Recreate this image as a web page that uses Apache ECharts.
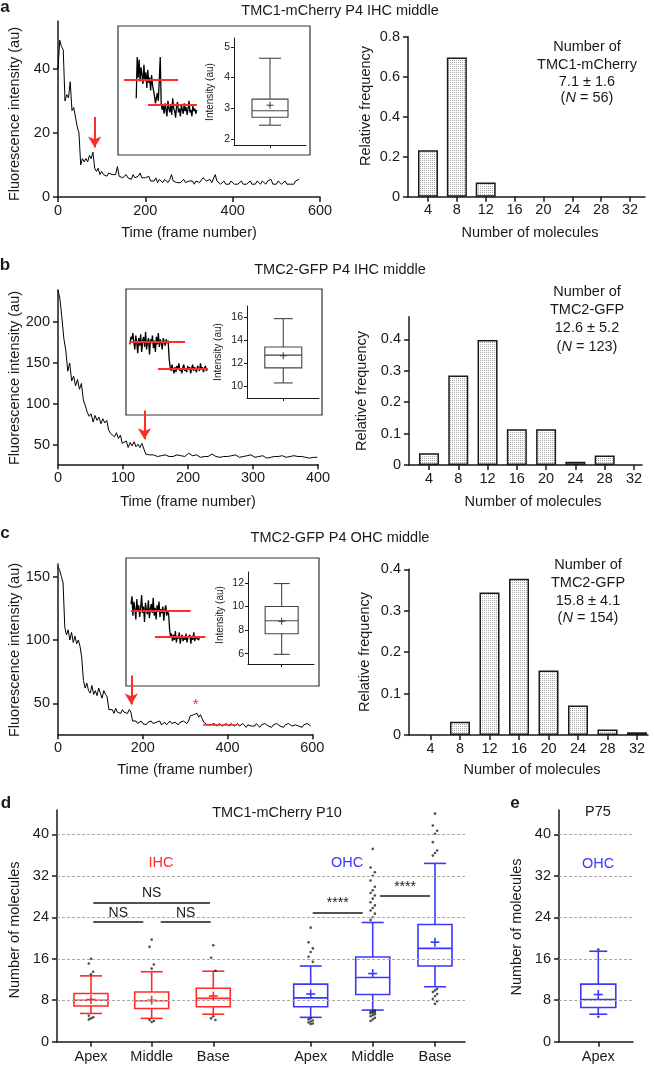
<!DOCTYPE html>
<html lang="en">
<head>
<meta charset="UTF-8">
<title>TMC1 / TMC2 molecule counts</title>
<script src="https://cdn.jsdelivr.net/npm/echarts@6/dist/echarts.min.js"></script>
<style>
  html,body{margin:0;padding:0;background:#fff;}
  #main{width:654px;height:1065px;}
</style>
</head>
<body>
<div id="main"></div>
<script>
// ---------- values ----------
// photobleaching traces (one value every N frames)
var stepA = 4, stepB = 3, stepC = 4;
var traceA = [40,49,47,46,30,32,31,36,27,28,25,22,20,10,12,11,12,11,13,12,14,9,8,9,7,8,7,7.5,6.5,7.5,
  8,7,6.5,7,9.5,6.5,7,6,6.5,7,6,6.5,5.5,7,6,5.5,6.5,7.5,6,5.5,6,5.5,6.5,5,5.5,5,6,4.5,5.5,5,
  4.5,5.5,5,4.5,5.5,7,5,5.5,4.5,5,4.5,5,5.5,4.5,4,5,4.5,5,4,5,5.5,4.5,5,6,6.5,5,4.5,5.5,4.5,5,
  7,5,4.5,4,4.5,5,4,4.5,4,5,4.5,4,4.5,4,4.5,5,4,4.5,4,4.5,5,4,4.5,4,5,4.5,4,5,4.5,4,
  5,4.5,5.5,4,4.5,4,5,4.5,4,4.5,5,4,4.5,4,4.5,4,5,4.5,5.5];
var traceB = [239,228,205,180,165,140,150,128,134,122,130,118,125,105,98,90,85,88,78,86,80,84,76,82,77,80,
  68,64,66,60,65,58,62,52,50,55,47,53,49,54,48,51,47,52,50,39,37,38,36,38,37,36,38,37,35,38,37,36,38,36,
  37,38,36,37,38,36,37,40,39,37,36,38,37,35,37,36,38,36,37,39,38,36,37,35,37,36,38,36,35,37,36,38,36,35,
  37,36,35,37,36,38,36,35,37,36,35,37,36,34,36,35,37,36,34,36,35,37,36,35,34,36,35,37,35,36,34,36,37,35,
  36,34,36,35,37,35];
var traceC = [158,155,150,145,110,104,108,100,106,98,103,97,100,95,86,68,62,66,60,58,64,57,60,56,62,58,54,60,57,55,
  45,44,45,42,46,43,44,42,45,43,44,42,45,43,36,35,36,34,35,36,34,35,33,35,34,36,34,33,35,34,
  36,33,34,35,33,34,36,34,33,35,34,33,35,34,36,35,34,36,40,39,41,40,42,39,41,38,35,34,33,34,
  33,32,34,33,32,34,33,32,33,34,33,32,34,33,32,33,34,32,33,34,33,31,33,34,32,33,32,34,33,31,
  33,32,34,33,32,33,31,33,32,34,33,32,33,31,33,32,34,33,32,31,33,34,32,33,31,33,32,34,33,32];

// bleaching arrows [frame, from, to], red marks
var arrowA = [84, 25, 15.5];
var arrowB = [133, 92, 57];
var arrowC = [173, 72, 49];
var starC = [325, 48.5];
var levelC = [342, 422, 33.4];

// inset traces (local units 0-100), x start and step
var insetX0 = [9.5, 2, 2.6], insetDx = 0.5;
var insetA = [44,76,60,74,57,68,62,55,70,58,64,52,66,56,60,50,62,54,55,46,40,44,48,42,58,76,40,35,
  38,32,40,35,30,42,36,33,39,31,44,36,34,29,38,41,33,36,30,39,35,32,40,34,37,31,36,42,33,35,30,38,34,36,32,35];
var insetB = [56,62,60,65,58,52,63,57,49,61,55,64,50,59,62,54,66,52,58,61,48,60,57,63,53,59,50,62,56,65,54,60,57,52,61,58,55,60,57,59,
  45,38,35,40,36,33,38,34,39,36,41,35,37,33,38,40,35,37,34,39,36,38,33,37,40,35,38,36,34,39,37,35,41,36,38,34,37,39,35,37];
var insetC = [64,70,55,66,60,52,68,58,63,54,61,71,57,62,50,65,59,56,67,53,60,64,57,69,55,61,52,63,58,66,54,60,57,62,51,59,63,55,58,56,
  44,38,41,35,40,36,43,34,39,37,42,33,38,40,35,39,36,41,34,38,37,40,33,39,36,42,35,38,37,39,36,38];
// fitted step levels [xStart, xEnd, level]
var stepsA = [[3.1, 31.3, 58], [15.6, 41.1, 38.8]];
var stepsB = [[2, 30.1, 58], [16.3, 41.8, 36.7]];
var stepsC = [[2.6, 33.5, 59], [15, 41.2, 38.5]];
// step-size box plots [min, q1, median, q3, max, mean]
var stepBoxA = [2.45, 2.71, 2.92, 3.3, 4.63, 3.1];
var stepBoxB = [10.3, 11.6, 12.7, 13.4, 15.85, 12.65];
var stepBoxC = [5.95, 7.7, 8.8, 10.0, 11.95, 8.75];

// histograms
var bins = [4, 8, 12, 16, 20, 24, 28, 32];
var histA = [0.232, 0.696, 0.071, 0, 0, 0, 0, 0];
var histB = [0.037, 0.285, 0.398, 0.114, 0.114, 0.010, 0.030, 0];
var histC = [0, 0.032, 0.344, 0.377, 0.156, 0.071, 0.013, 0.0065];

// panel d / e box plots [min, q1, median, q3, max, mean]
var dNames = ['Apex', 'Middle', 'Base', 'Apex', 'Middle', 'Base'];
var dStats = [
  [5.45, 6.9, 8.0, 9.3, 12.7, 8.15],
  [4.5, 6.4, 7.9, 9.6, 13.5, 8.0],
  [5.3, 6.75, 8.35, 10.3, 13.6, 8.8],
  [4.7, 6.75, 8.45, 11.1, 14.6, 9.2],
  [6.1, 9.1, 12.4, 16.35, 23.0, 13.15],
  [10.6, 14.6, 18.0, 22.6, 34.4, 19.2]
];
var dOutliers = [
  [16.0, 15.1, 13.5, 13.0, 5.0, 4.7, 4.5, 4.3],
  [19.7, 18.3, 14.9, 14.1, 4.2, 4.0, 3.8],
  [18.6, 16.2, 13.7, 4.9, 4.5, 4.2],
  [22.0, 19.2, 18.0, 17.3, 16.4, 15.4, 4.5, 4.3, 4.1, 3.9, 3.7, 3.5, 3.4],
  [37.2, 33.6, 32.7, 32.0, 31.1, 29.9, 29.2, 28.7, 28.2, 27.6, 26.9, 26.3, 25.8, 25.3, 24.7, 24.0, 23.5,
   6.0, 5.9, 5.8, 5.7, 5.6, 5.5, 5.3, 5.1, 4.9, 4.6, 4.3, 4.0],
  [44.0, 41.7, 40.7, 40.1, 38.5, 36.9, 36.4, 35.9, 10.2, 9.9, 9.6, 9.2, 8.8, 8.3, 7.8, 7.3]
];
var eNames = ['Apex'];
var eStats = [[5.3, 6.6, 8.15, 11.1, 17.45, 9.1]];
var eOutliers = [[17.8, 4.8]];
// significance bars [xStart, xEnd, y, label] in panel-d axis units
var sigBars = [[0.588, 2.484, 26.9, 'NS'], [0.588, 1.401, 23.1, 'NS'], [1.683, 2.495, 23.1, 'NS'],
  [4.151, 4.963, 24.9, '****'], [5.244, 6.055, 28.1, '****']];
var molTicks = [0, 8, 16, 24, 32, 40];

// ---------- layout / style ----------
var FONT = '"Liberation Sans", Arial, Helvetica, sans-serif';
var INK = '#1a1a1a';
var RED = '#ff2b2b';
var BLUE = '#3838ff';
var dPos = [0.552, 1.537, 2.537, 4.118, 5.125, 6.136];
var dColors = [RED, RED, RED, BLUE, BLUE, BLUE];
var ePos = [0.531];

// stipple fill for histogram bars
var dots = document.createElement('canvas');
dots.width = 2; dots.height = 2;
var dctx = dots.getContext('2d');
dctx.fillStyle = '#fff'; dctx.fillRect(0, 0, 2, 2);
dctx.fillStyle = '#a6a6a6'; dctx.fillRect(0, 0, 1, 1);

var insetBorder = {show: true, borderColor: '#333', borderWidth: 1.2, backgroundColor: 'transparent'};
var grids = [
  {left: 58, top: 21, width: 262, height: 176},
  Object.assign({left: 118, top: 26, width: 192, height: 129}, insetBorder),
  {left: 234, top: 38, width: 72, height: 107},
  {left: 408, top: 36.7, width: 237, height: 160},
  {left: 58, top: 290, width: 260, height: 174.3},
  Object.assign({left: 126, top: 289, width: 196, height: 126}, insetBorder),
  {left: 247, top: 306, width: 72, height: 92},
  {left: 409, top: 316.7, width: 233, height: 148.3},
  {left: 58, top: 564, width: 254.3, height: 170.3},
  Object.assign({left: 126, top: 558, width: 193, height: 128}, insetBorder),
  {left: 248, top: 572, width: 66, height: 92},
  {left: 409, top: 569.3, width: 239, height: 165.7},
  {left: 57, top: 810, width: 408, height: 231.7},
  {left: 559, top: 810, width: 74, height: 231.7}
];
grids.forEach(function (g) { g.outerBoundsMode = 'none'; g.containLabel = false; });

function axis(gi, min, max, ticks, o) {
  o = o || {};
  var lw = o.lw || 1.5;
  return {
    type: 'value', gridIndex: gi, min: min, max: max, show: o.show !== false,
    axisLine: {show: true, onZero: false, lineStyle: {color: INK, width: lw}},
    axisTick: {show: !!ticks && !o.noTick, customValues: ticks || [], length: o.tick || 5, lineStyle: {color: INK, width: lw}},
    axisLabel: {show: !!ticks && !o.noLabel, customValues: ticks || [], formatter: o.fmt, margin: o.margin || 6,
      fontSize: o.fs || 14.5, color: INK, fontFamily: FONT},
    splitLine: {show: false}
  };
}
function hidden(gi) {
  return {type: 'value', gridIndex: gi, min: 0, max: 100, show: false, splitLine: {show: false}};
}
function nameOf(names, pos) {
  return function (v) {
    var best = 0;
    pos.forEach(function (p, i) { if (Math.abs(p - v) < Math.abs(pos[best] - v)) best = i; });
    return names[best];
  };
}

var xAxes = [
  axis(0, 0, 600, [0, 200, 400, 600]),
  hidden(1),
  axis(2, 0, 1, [0.5], {lw: 1, tick: 3, noLabel: true}),
  axis(3, 1.228, 34.08, bins),
  axis(4, 0, 400, [0, 100, 200, 300, 400]),
  hidden(5),
  axis(6, 0, 1, [0.504], {lw: 1, tick: 3, noLabel: true}),
  axis(7, 1.268, 33.1, bins),
  axis(8, 0, 600, [0, 200, 400, 600]),
  hidden(9),
  axis(10, 0, 1, [0.51], {lw: 1, tick: 3, noLabel: true}),
  axis(11, 1.085, 33.49, bins),
  axis(12, 0, 6.623, dPos, {fmt: nameOf(dNames, dPos), margin: 8}),
  axis(13, 0, 1, ePos, {fmt: nameOf(eNames, ePos), margin: 8})
];
var yAxes = [
  axis(0, 0, 55, [0, 20, 40], {margin: 8}),
  hidden(1),
  axis(2, 1.805, 5.29, [2, 3, 4, 5], {lw: 1, tick: 3, fs: 10.5, margin: 4}),
  axis(3, 0, 0.8, [0, 0.2, 0.4, 0.6, 0.8], {margin: 8}),
  axis(4, 26.5, 239, [50, 100, 150, 200], {margin: 8}),
  hidden(5),
  axis(6, 9.0, 16.94, [10, 12, 14, 16], {lw: 1, tick: 3, fs: 10.5, margin: 4}),
  axis(7, 0, 0.472, [0, 0.1, 0.2, 0.3, 0.4], {margin: 8}),
  axis(8, 25.5, 160, [50, 100, 150], {margin: 8}),
  hidden(9),
  axis(10, 5.13, 12.93, [6, 8, 10, 12], {lw: 1, tick: 3, fs: 10.5, margin: 4}),
  axis(11, 0, 0.4, [0, 0.1, 0.2, 0.3, 0.4], {margin: 8}),
  axis(12, 0, 44.7, molTicks, {margin: 8}),
  axis(13, 0, 44.7, molTicks, {margin: 8})
];

function boxRender(w, cap, colors, lw, plus) {
  return function (params, api) {
    var x = api.value(0);
    var c = function (k) { return api.coord([x, api.value(k)]); };
    var lo = c(1), q1 = c(2), md = c(3), q3 = c(4), hi = c(5), mn = c(6);
    var cx = lo[0];
    var st = {stroke: colors[params.dataIndex % colors.length], lineWidth: lw, fill: null};
    function ln(x1, y1, x2, y2) { return {type: 'line', shape: {x1: x1, y1: y1, x2: x2, y2: y2}, style: st}; }
    return {type: 'group', children: [
      ln(cx, lo[1], cx, q1[1]), ln(cx, q3[1], cx, hi[1]),
      ln(cx - cap / 2, lo[1], cx + cap / 2, lo[1]), ln(cx - cap / 2, hi[1], cx + cap / 2, hi[1]),
      {type: 'rect', shape: {x: cx - w / 2, y: q3[1], width: w, height: q1[1] - q3[1]}, style: st},
      ln(cx - w / 2, md[1], cx + w / 2, md[1]),
      ln(cx - plus, mn[1], cx + plus, mn[1]), ln(cx, mn[1] - plus, cx, mn[1] + plus)
    ]};
  };
}
function boxSeries(gi, pos, stats, w, cap, colors, lw, plus) {
  return {
    type: 'custom', xAxisIndex: gi, yAxisIndex: gi, z: 3,
    renderItem: boxRender(w, cap, colors, lw, plus),
    encode: {x: 0, y: [1, 2, 3, 4, 5, 6]},
    data: stats.map(function (s, i) { return [pos[i]].concat(s); })
  };
}
function traceSeries(gi, values, step, width) {
  return {
    type: 'line', xAxisIndex: gi, yAxisIndex: gi, showSymbol: false, symbol: 'none', z: 2,
    lineStyle: {color: '#000', width: width || 1}, silent: true,
    data: values.map(function (v, i) { return [i * step, v]; })
  };
}
function arrowLine(a) {
  return {symbol: ['none', 'arrow'], symbolSize: [10, 11], silent: true, label: {show: false},
    lineStyle: {color: RED, width: 2, type: 'solid'},
    data: [[{coord: [a[0], a[1]]}, {coord: [a[0], a[2]]}]]};
}
function redLevels(levels, width) {
  return {symbol: 'none', silent: true, label: {show: false},
    lineStyle: {color: RED, width: width, type: 'solid'},
    data: levels.map(function (l) { return [{coord: [l[0], l[2]]}, {coord: [l[1], l[2]]}]; })};
}
function histSeries(gi, values) {
  return {
    type: 'bar', xAxisIndex: gi, yAxisIndex: gi, barWidth: 20, z: 2,
    itemStyle: {color: {image: dots, repeat: 'repeat'}, borderColor: INK, borderWidth: 1.5},
    data: bins.map(function (b, i) { return [b, values[i]]; }).filter(function (d) { return d[1] > 0; })
  };
}
function gridLines(gi) {
  return {
    type: 'scatter', xAxisIndex: gi, yAxisIndex: gi, data: [], z: 1, silent: true,
    markLine: {symbol: 'none', silent: true, label: {show: false},
      lineStyle: {color: '#a8a8a8', width: 1, type: [3, 2]},
      data: molTicks.slice(1).map(function (t) { return {yAxis: t}; })}
  };
}
function outlierSeries(gi, pos, groups) {
  var pts = [];
  var jit = [0, -0.035, 0.035];
  groups.forEach(function (g, i) {
    g.forEach(function (v, k) { pts.push([pos[i] + jit[k % 3] * (gi === 13 ? 0 : 1), v]); });
  });
  return {type: 'scatter', xAxisIndex: gi, yAxisIndex: gi, symbolSize: 2.6, z: 4, silent: true,
    itemStyle: {color: '#222'}, data: pts};
}
function insetSeries(gi, values, x0, levels) {
  var s = {
    type: 'line', xAxisIndex: gi, yAxisIndex: gi, showSymbol: false, symbol: 'none', silent: true,
    lineStyle: {color: '#000', width: 1.3},
    data: values.map(function (v, i) { return [x0 + i * insetDx, v]; })
  };
  s.markLine = redLevels(levels, 2.2);
  return s;
}

var series = [];
var sa = traceSeries(0, traceA, stepA); sa.markLine = arrowLine(arrowA); series.push(sa);
series.push(insetSeries(1, insetA, insetX0[0], stepsA));
series.push(boxSeries(2, [0.5], [stepBoxA], 36, 22, ['#444'], 1.1, 3.5));
series.push(histSeries(3, histA));

var sb = traceSeries(4, traceB, stepB); sb.markLine = arrowLine(arrowB); series.push(sb);
series.push(insetSeries(5, insetB, insetX0[1], stepsB));
series.push(boxSeries(6, [0.504], [stepBoxB], 37, 19, ['#444'], 1.1, 3.5));
series.push(histSeries(7, histB));

var sc = traceSeries(8, traceC, stepC);
var ml = arrowLine(arrowC);
ml.data.push([{coord: [levelC[0], levelC[2]], lineStyle: {width: 1.5}, symbol: 'none'}, {coord: [levelC[1], levelC[2]], symbol: 'none'}]);
sc.markLine = ml;
sc.markPoint = {symbol: 'circle', symbolSize: 1, silent: true, itemStyle: {color: 'rgba(0,0,0,0)'},
  label: {show: true, formatter: '*', color: RED, fontSize: 15, fontFamily: FONT},
  data: [{coord: starC}]};
series.push(sc);
series.push(insetSeries(9, insetC, insetX0[2], stepsC));
series.push(boxSeries(10, [0.51], [stepBoxC], 33, 16, ['#444'], 1.1, 3.5));
series.push(histSeries(11, histC));

series.push(gridLines(12));
series.push(boxSeries(12, dPos, dStats, 34, 22, dColors, 1.6, 4.5));
var od = outlierSeries(12, dPos, dOutliers);
od.markLine = {symbol: 'none', silent: true,
  lineStyle: {color: INK, width: 1.5, type: 'solid'},
  label: {show: true, position: 'middle', distance: 2, color: INK, fontSize: 14, fontFamily: FONT},
  data: sigBars.map(function (b) {
    return [{coord: [b[0], b[2]], label: {formatter: b[3]}}, {coord: [b[1], b[2]]}];
  })};
series.push(od);

series.push(gridLines(13));
series.push(boxSeries(13, ePos, eStats, 35, 18, [BLUE], 1.6, 4.5));
series.push(outlierSeries(13, ePos, eOutliers));

// ---------- texts ----------
function txt(x, y, s, o) {
  o = o || {};
  var st = {text: s, fill: o.color || INK, align: 'center', verticalAlign: 'middle',
    fontSize: o.size || 14.5, fontFamily: FONT, fontWeight: o.bold ? 'bold' : 'normal'};
  if (o.rich) st.rich = o.rich;
  return {type: 'text', x: x, y: y, rotation: o.rot || 0, silent: true, style: st, z: 10};
}
var UP = Math.PI / 2;
var nRich = {n: {fontSize: 14.5, fontFamily: FONT, fill: INK, fontStyle: 'italic'},
  t: {fontSize: 14.5, fontFamily: FONT, fill: INK}};
function nLine(n) { return '{t|(}{n|N}{t| = ' + n + ')}'; }
var texts = [
  txt(5, 7, 'a', {bold: true, size: 17}), txt(5, 265, 'b', {bold: true, size: 17}),
  txt(5, 533, 'c', {bold: true, size: 17}), txt(6, 803, 'd', {bold: true, size: 17}),
  txt(515, 803, 'e', {bold: true, size: 17}),
  txt(340, 11, 'TMC1-mCherry P4 IHC middle'),
  txt(340, 270, 'TMC2-GFP P4 IHC middle'),
  txt(340, 538, 'TMC2-GFP P4 OHC middle'),
  txt(277, 813, 'TMC1-mCherry P10'),
  txt(598, 812, 'P75'),
  txt(587, 47, 'Number of'), txt(587, 65, 'TMC1-mCherry'), txt(587, 82, '7.1 \u00b1 1.6'),
  txt(587, 98, nLine(56), {rich: nRich}),
  txt(587, 292, 'Number of'), txt(587, 310, 'TMC2-GFP'), txt(587, 328, '12.6 \u00b1 5.2'),
  txt(587, 347, nLine(123), {rich: nRich}),
  txt(588, 565, 'Number of'), txt(588, 583, 'TMC2-GFP'), txt(588, 601, '15.8 \u00b1 4.1'),
  txt(588, 618, nLine(154), {rich: nRich}),
  txt(15, 114, 'Fluorescence intensity (au)', {rot: UP}),
  txt(15, 378, 'Fluorescence intensity (au)', {rot: UP}),
  txt(15, 650, 'Fluorescence intensity (au)', {rot: UP}),
  txt(189, 233, 'Time (frame number)'), txt(188, 502, 'Time (frame number)'), txt(185, 770, 'Time (frame number)'),
  txt(366, 106, 'Relative frequency', {rot: UP}), txt(362, 391, 'Relative frequency', {rot: UP}),
  txt(365, 652, 'Relative frequency', {rot: UP}),
  txt(530, 233, 'Number of molecules'), txt(533, 502, 'Number of molecules'), txt(532, 770, 'Number of molecules'),
  txt(210, 92, 'Intensity (au)', {rot: UP, size: 10}), txt(218, 352, 'Intensity (au)', {rot: UP, size: 10}),
  txt(220, 615, 'Intensity (au)', {rot: UP, size: 10}),
  txt(15, 930, 'Number of molecules', {rot: UP}), txt(517, 927, 'Number of molecules', {rot: UP}),
  txt(161, 863, 'IHC', {color: RED}), txt(347, 863, 'OHC', {color: BLUE}), txt(598, 864, 'OHC', {color: BLUE})
];

var option = {
  animation: false,
  textStyle: {fontFamily: FONT},
  grid: grids,
  xAxis: xAxes,
  yAxis: yAxes,
  series: series,
  graphic: texts
};
var myChart = echarts.init(document.getElementById('main'));
myChart.setOption(option);
</script>
</body>
</html>
